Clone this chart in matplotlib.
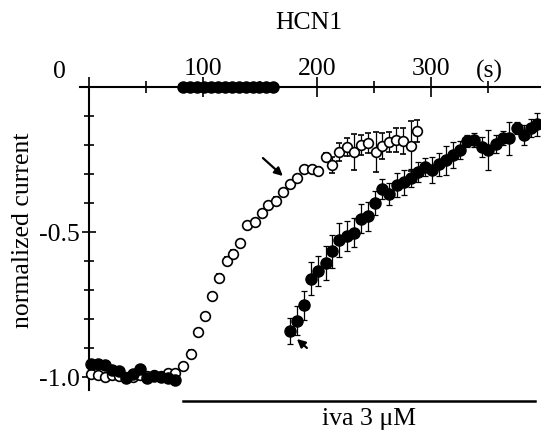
import numpy as np
import matplotlib
matplotlib.use("Agg")
import matplotlib.pyplot as plt

plt.rcParams['font.family'] = ['Liberation Serif', 'DejaVu Serif']
plt.rcParams['font.size'] = 18.5

# Control (open circles)
t_open = [1.8, 7.9, 14.0, 20.2, 26.3, 32.4, 38.6, 44.7, 50.8, 57.0, 63.1, 69.2, 75.4,
          82.4, 89.4, 95.5, 101.7, 107.8, 113.9, 120.9, 126.2, 132.3, 138.5, 145.5,
          151.6, 156.9, 163.9, 170.0, 176.2, 182.3, 188.4, 195.4, 200.7, 207.7, 213.0,
          219.1, 226.1, 232.3, 238.4, 244.5, 251.5, 256.8, 262.9, 269.1, 275.2, 282.2, 287.5]
v_open = [-0.990, -0.993, -1.000, -0.993, -0.997, -1.000, -1.000, -0.993, -0.997, -0.993,
          -0.997, -0.986, -0.986,
          -0.962, -0.921, -0.845, -0.790, -0.720, -0.659, -0.600, -0.576, -0.538, -0.476,
          -0.466, -0.434, -0.407, -0.393, -0.362, -0.334, -0.314, -0.283, -0.283, -0.290,
          -0.241, -0.269, -0.224, -0.207, -0.224, -0.200, -0.193, -0.224, -0.203, -0.190,
          -0.183, -0.186, -0.203, -0.152]
e_open = [0.005, 0.005, 0.005, 0.005, 0.005, 0.005, 0.005, 0.005, 0.005, 0.005, 0.005,
          0.005, 0.005,
          0.008, 0.015, 0.010, 0.010, 0.010, 0.015, 0.015, 0.015, 0.012, 0.010, 0.010,
          0.010, 0.012, 0.012, 0.010, 0.010, 0.010, 0.012, 0.012, 0.015, 0.012, 0.026,
          0.032, 0.030, 0.063, 0.035, 0.035, 0.069, 0.045, 0.035, 0.040, 0.045, 0.086, 0.037]

# Ivabradine (filled circles)
t_fill_base = [1.8, 7.9, 14.0, 20.2, 26.3, 32.4, 38.6, 44.7, 50.8, 57.0, 63.1, 69.2, 75.4]
v_fill_base = [-0.955, -0.955, -0.958, -0.975, -0.978, -1.003, -0.990, -0.972, -1.003,
               -0.998, -1.000, -1.005, -1.010]
t_fill_zero = [82.4, 88.5, 94.6, 100.7, 106.8, 112.9, 119.0, 125.1, 131.2, 137.3,
               143.4, 149.5, 155.6, 161.7]
v_fill_zero = [0.0] * len(t_fill_zero)
t_fill_rec = [176.2, 182.3, 188.4, 194.6, 200.7, 207.7, 213.0, 219.1, 226.1, 232.3,
              238.4, 244.5, 250.7, 256.8, 262.9, 269.9, 276.1, 282.2, 288.3, 294.5,
              300.6, 306.7, 312.9, 319.0, 325.2, 331.3, 337.4, 344.4, 349.7, 356.7,
              362.8, 368.1, 375.1, 381.2, 387.4, 392.6]
v_fill_rec = [-0.841, -0.807, -0.752, -0.662, -0.634, -0.607, -0.566, -0.528, -0.514,
              -0.503, -0.455, -0.445, -0.400, -0.352, -0.369, -0.338, -0.328, -0.314,
              -0.293, -0.276, -0.286, -0.266, -0.252, -0.234, -0.217, -0.186, -0.183,
              -0.207, -0.217, -0.197, -0.176, -0.176, -0.141, -0.166, -0.141, -0.128]
e_fill_rec = [0.044, 0.050, 0.050, 0.057, 0.052, 0.057, 0.057, 0.060, 0.052, 0.050,
              0.050, 0.050, 0.043, 0.034, 0.037, 0.040, 0.043, 0.030, 0.034, 0.030,
              0.045, 0.040, 0.050, 0.045, 0.030, 0.020, 0.025, 0.035, 0.069, 0.030,
              0.025, 0.057, 0.020, 0.035, 0.030, 0.040]

fig = plt.figure(figsize=(5.41, 4.39), dpi=100)
ax = fig.add_axes([80 / 541, 48 / 439, 461 / 541, 303 / 439])
ax.set_xlim(-8, 396.5)
ax.set_ylim(-1.045, 0)

# open circles
ax.errorbar(t_open, v_open, yerr=e_open, fmt='o', ms=7, mfc='white', mec='black',
            mew=1.2, ecolor='black', elinewidth=0.9, capsize=2, capthick=0.9,
            clip_on=False, zorder=3)
# filled circles
ax.plot(t_fill_base, v_fill_base, 'o', ms=8, color='black', clip_on=False, zorder=4)
ax.plot(t_fill_zero, v_fill_zero, 'o', ms=8, color='black', clip_on=False, zorder=4)
ax.errorbar(t_fill_rec, v_fill_rec, yerr=e_fill_rec, fmt='o', ms=8, color='black',
            ecolor='black', elinewidth=0.9, capsize=2, capthick=0.9,
            clip_on=False, zorder=4)

# axes styling
for s in ['bottom', 'right']:
    ax.spines[s].set_visible(False)
ax.spines['left'].set_position(('data', 0))
ax.spines['left'].set_linewidth(1.5)
ax.spines['top'].set_linewidth(1.5)

ax.xaxis.tick_top()
ax.set_xticks([0, 100, 200, 300], labels=['', '100', '200', '300'])
ax.set_xticks([50, 150, 250, 350], minor=True)
ax.tick_params(axis='x', which='major', direction='inout', length=15, width=1.2, pad=-2)
ax.tick_params(axis='x', which='minor', direction='inout', length=8, width=1.2)

ax.set_yticks([0, -0.5, -1.0], labels=['', '-0.5', '-1.0'])
ax.set_yticks([-0.1, -0.2, -0.3, -0.4, -0.6, -0.7, -0.8, -0.9], minor=True)
ax.tick_params(axis='y', which='major', direction='inout', length=10, width=1.2, pad=2)
ax.tick_params(axis='y', which='minor', direction='inout', length=7, width=1.2)

# extra axis texts
ax.annotate('0', xy=(-26, 0), xytext=(0, 5), textcoords='offset pixels',
            ha='center', va='bottom', annotation_clip=False)
ax.annotate('(s)', xy=(351, 0), xytext=(0, 5), textcoords='offset pixels',
            ha='center', va='bottom', annotation_clip=False)
ax.text(193, 0.225, 'HCN1', ha='center', va='center')
ax.text(-58, -0.49, 'normalized current', rotation=90, ha='center', va='center')

# drug application bar
ax.plot([82.5, 391], [-1.083, -1.083], color='black', lw=1.8, clip_on=False)
ax.text(245.5, -1.14, 'iva 3 \u03bcM', ha='center', va='center')

# arrows
arrow = dict(arrowstyle='-|>', lw=1.6, color='black', mutation_scale=12,
             shrinkA=0, shrinkB=0)
ax.annotate('', xy=(170.0, -0.307), xytext=(152.5, -0.245), arrowprops=arrow)
ax.annotate('', xy=(182.3, -0.869), xytext=(191.1, -0.900), arrowprops=arrow)

fig.savefig('out.png', dpi=100)
